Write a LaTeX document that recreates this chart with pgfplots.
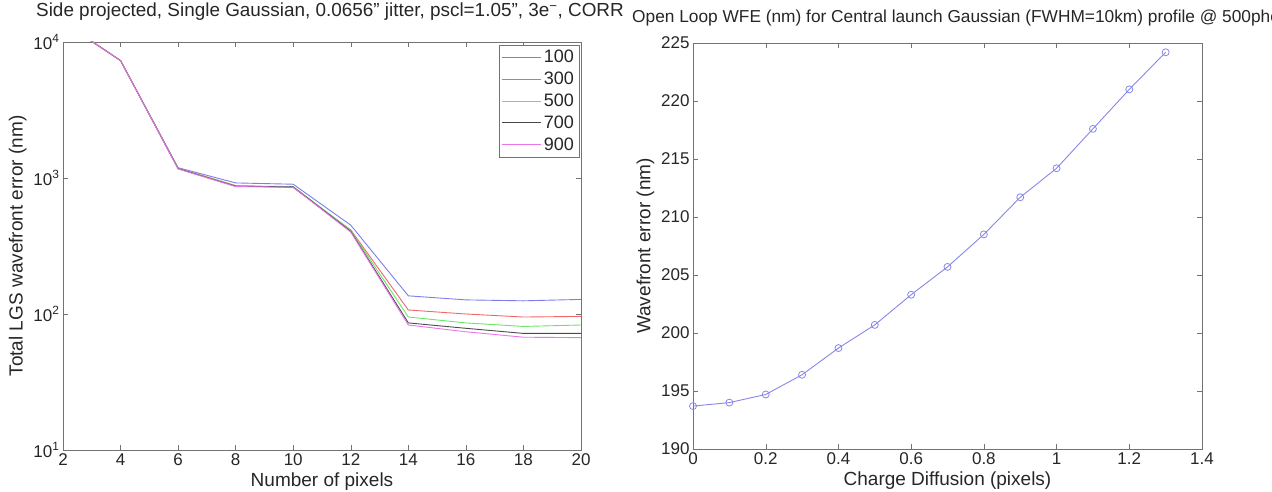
\documentclass[border=0pt]{standalone}
\usepackage{fontspec}
\setmainfont{Liberation Sans}
\usepackage{pgfplots}
\usepackage{pgfplotstable}
\pgfplotsset{compat=1.18}
\definecolor{colblue}{RGB}{125,125,240}
\definecolor{colred}{RGB}{240,105,105}
\definecolor{colgreen}{RGB}{105,230,105}
\definecolor{colblack}{RGB}{75,75,75}
\definecolor{colmag}{RGB}{235,115,235}
\definecolor{colline}{RGB}{135,135,235}
\pgfplotstableread{
x b r g k m
2 14000 14000 14000 14000 14000
4 7300 7300 7300 7300 7300
6 1190 1180 1175 1170 1165
8 920 880 875 870 865
10 900 850 865 860 855
12 450 415 412 405 400
14 136 107 95 86 83
16 127 100 86 78.5 74
18 125 95 81 72 67.5
20 128 96 83 72 67
}\lefttab
\pgfplotstableread{
x y
0 193.7
0.1 194.0
0.2 194.7
0.3 196.4
0.4 198.7
0.5 200.7
0.6 203.3
0.7 205.7
0.8 208.5
0.9 211.7
1.0 214.2
1.1 217.6
1.2 221.0
1.3 224.2
}\righttab
\begin{document}
\begin{tikzpicture}[x=1pt,y=1pt]
\useasboundingbox (0,0) rectangle (1272,492);
\clip (0,0) rectangle (1272,492);
\pgfplotsset{
  every axis/.append style={
    scale only axis,
    axis line style={black!55},
    every tick/.style={black!55},
    tick label style={font=\fontsize{17}{17}\selectfont, text=black!85},
    label style={font=\fontsize{19}{19}\selectfont, text=black!85},
    title style={font=\fontsize{18.9}{18.9}\selectfont, text=black!85},
    /pgf/number format/assume math mode=true,
    major tick length=5pt,
    minor tick length=3pt,
  }
}
\begin{axis}[
  at={(63pt,42pt)}, anchor=south west,
  width=518pt, height=408pt,
  ymode=log, log basis y=10,
  xmin=2, xmax=20, ymin=10, ymax=10000,
  xtick={2,4,...,20},
  ytick={10,100,1000,10000},
  yticklabels={10\textsuperscript{1},10\textsuperscript{2},10\textsuperscript{3},10\textsuperscript{4}},
  xlabel={Number of pixels},
  ylabel={Total LGS wavefront error (nm)},
  title={Side projected, Single Gaussian, 0.0656" jitter, pscl=1.05", 3e\textsuperscript{\char"2212}, CORR},
  title style={at={(0.5,1)}, anchor=base, yshift=19pt, xshift=8pt},
  legend style={at={(1,1)}, anchor=north east, xshift=-2pt, yshift=-3pt,
    draw=black!55, font=\fontsize{18}{18}\selectfont, text=black!85,
    cells={anchor=east}, row sep=3.8pt, inner sep=3pt},
  legend image code/.code={\draw[#1] (0pt,0pt) -- (39pt,0pt);},
]
\addplot[colblue, line width=0.9pt] table[x=x,y=b] {\lefttab};
\addlegendentry{100}
\addplot[colred, line width=0.9pt] table[x=x,y=r] {\lefttab};
\addlegendentry{300}
\addplot[colgreen, line width=0.9pt] table[x=x,y=g] {\lefttab};
\addlegendentry{500}
\addplot[colblack, line width=0.9pt] table[x=x,y=k] {\lefttab};
\addlegendentry{700}
\addplot[colmag, line width=0.9pt] table[x=x,y=m] {\lefttab};
\addlegendentry{900}
\end{axis}
\begin{axis}[
  at={(693pt,43pt)}, anchor=south west,
  width=509pt, height=406pt,
  xmin=0, xmax=1.4, ymin=190, ymax=225,
  xtick={0,0.2,...,1.4},
  ytick={190,195,...,225},
  xlabel={Charge Diffusion (pixels)},
  ylabel={Wavefront error (nm)},
]
\addplot[colline, line width=0.9pt, mark=o, mark size=3.5pt, mark options={solid, line width=0.8pt}] table[x=x,y=y] {\righttab};
\end{axis}
\node[anchor=base west, font=\fontsize{17.3}{17.3}\selectfont, text=black!85, inner sep=0pt] at (632,469) {Open Loop WFE (nm) for Central launch Gaussian (FWHM=10km) profile @ 500photons};
\end{tikzpicture}
\end{document}
